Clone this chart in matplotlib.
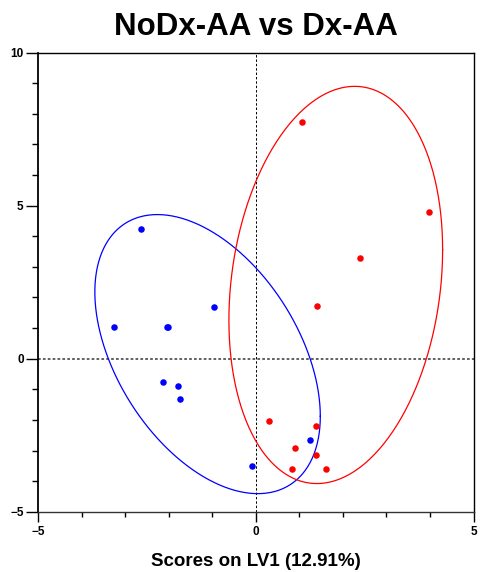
import numpy as np
import matplotlib
matplotlib.use("Agg")
import matplotlib.pyplot as plt
from matplotlib.ticker import MultipleLocator

plt.rcParams['font.family'] = ['Liberation Sans', 'DejaVu Sans']

#### scores (LV1, LV2)
nodx_x = [-2.65, -3.27, -2.05, -2.02, -0.97, -2.14, -1.79, -1.75, 1.25, -0.10]
nodx_y = [4.25, 1.05, 1.05, 1.05, 1.70, -0.75, -0.88, -1.31, -2.66, -3.49]

dx_x = [1.07, 3.98, 2.40, 1.41, 0.31, 1.39, 0.90, 1.39, 0.84, 1.62]
dx_y = [7.73, 4.79, 3.28, 1.71, -2.02, -2.21, -2.93, -3.15, -3.59, -3.59]

# confidence ellipses: centre, half width, half height, covariance term
nodx_ell = [-1.11, 0.15, 2.59, 4.56, -5.26]
dx_ell = [1.835, 2.41, 2.455, 6.49, 2.82]


def ellipse(cx, cy, sx, sy, sxy):
  S = np.array([[sx**2, sxy], [sxy, sy**2]])
  M = np.linalg.cholesky(S)
  t = np.linspace(0, 2*np.pi, 400)
  pts = M @ np.vstack([np.cos(t), np.sin(t)])
  return pts[0] + cx, pts[1] + cy


fig = plt.figure(figsize=(4.8, 5.72), dpi=100)
ax = fig.add_axes([0.0797, 0.1054, 0.9068, 0.8025])

ax.axhline(0, color='#555555', ls=(0, (1.5, 1.2)), lw=1.3, zorder=1)
ax.axvline(0, color='black', ls=(0, (2.5, 2)), lw=0.7, zorder=1)

ex, ey = ellipse(*nodx_ell)
ax.plot(ex, ey, color='blue', lw=0.9)
ex, ey = ellipse(*dx_ell)
ax.plot(ex, ey, color='red', lw=0.9)

ax.scatter(nodx_x, nodx_y, s=22, color='blue', zorder=3, linewidths=0)
ax.scatter(dx_x, dx_y, s=22, color='red', zorder=3, linewidths=0)

ax.set_xlim(-5, 5)
ax.set_ylim(-5, 10)
ax.xaxis.set_major_locator(MultipleLocator(5))
ax.xaxis.set_minor_locator(MultipleLocator(1))
ax.yaxis.set_major_locator(MultipleLocator(5))
ax.yaxis.set_minor_locator(MultipleLocator(1))

ax.tick_params(axis='y', which='major', length=8.5, width=1, labelsize=8.5, pad=2)
ax.tick_params(axis='y', which='minor', length=4.3, width=1)
ax.tick_params(axis='x', which='major', length=7, width=1, labelsize=8.5, pad=3)
ax.tick_params(axis='x', which='minor', length=3.6, width=1)
for lab in ax.get_xticklabels() + ax.get_yticklabels():
  lab.set_fontweight('bold')

ax.spines['left'].set_linewidth(1.3)
ax.spines['bottom'].set_linewidth(1.0)
ax.spines['bottom'].set_color('#333333')
ax.spines['top'].set_linewidth(1.0)
ax.spines['right'].set_linewidth(1.0)

ax.set_title("NoDx-AA vs Dx-AA", fontsize=22.5, fontweight='bold', pad=13)
ax.set_xlabel("Scores on LV1 (12.91%)", fontsize=13.5, fontweight='bold', labelpad=11)

plt.savefig("out.png", dpi=100)
